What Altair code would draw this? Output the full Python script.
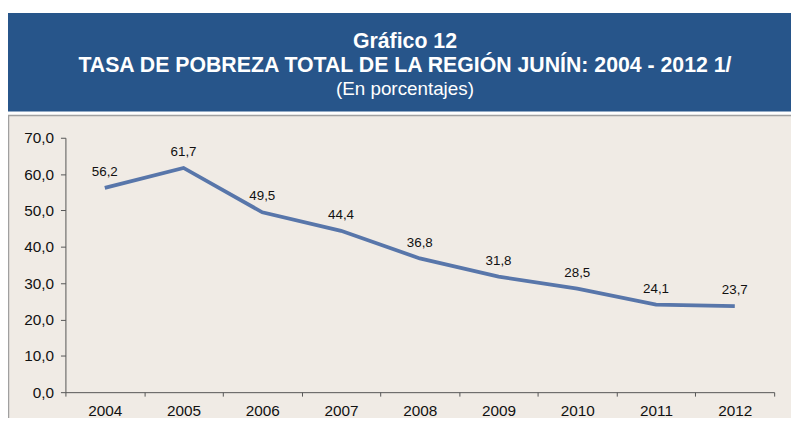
import altair as alt
import pandas as pd

years = ["2004", "2005", "2006", "2007", "2008", "2009", "2010", "2011", "2012"]
values = [56.2, 61.7, 49.5, 44.4, 36.8, 31.8, 28.5, 24.1, 23.7]
y_ticks = [0, 10, 20, 30, 40, 50, 60, 70]
title_line1 = "Gráfico 12"
title_line2 = "TASA DE POBREZA TOTAL DE LA REGIÓN JUNÍN: 2004 - 2012 1/"
subtitle = "(En porcentajes)"

df = pd.DataFrame({"year": years, "value": values})
one = pd.DataFrame({"k": [0]})

FONT = "Liberation Sans"
BLUE = "#27558A"
BEIGE = "#F0EBE5"

x_enc = alt.X("year:N", sort=years,
              scale=alt.Scale(type="band", paddingInner=0, paddingOuter=0),
              axis=alt.Axis(title=None, labelAngle=0, tickBand="extent", labelFontSize=15.5,
                            labelFont=FONT, labelColor="#111", labelPadding=8, tickSize=4,
                            domainColor="#555", tickColor="#555", zindex=1, grid=False))
y_enc = alt.Y("value:Q", scale=alt.Scale(domain=[0, 70], nice=False, zero=True),
              axis=alt.Axis(title=None, values=y_ticks, labelOverlap=False,
                            labelExpr="replace(format(datum.value, '.1f'), '.', ',')",
                            labelFontSize=15.5, labelFont=FONT, labelColor="#111",
                            tickSize=5, labelPadding=7, domainColor="#555",
                            tickColor="#555", zindex=1, grid=False))

panel = alt.Chart(one).mark_rect(fill=BEIGE, stroke="#A0A0A0", strokeWidth=1.5).encode(
    x=alt.value(-57.5), x2=alt.value(760), y=alt.value(-22.5), y2=alt.value(400))
header = alt.Chart(one).mark_rect(fill=BLUE).encode(
    x=alt.value(-60), x2=alt.value(760), y=alt.value(-126), y2=alt.value(-26.5))

t1 = alt.Chart(one).mark_text(font=FONT, fontSize=21.5, fontWeight="bold", color="white",
                              align="center", baseline="alphabetic").encode(
    x=alt.value(343), y=alt.value(-91), text=alt.value(title_line1))
t2 = alt.Chart(one).mark_text(font=FONT, fontSize=21.5, fontWeight="bold", color="white",
                              align="center", baseline="alphabetic").encode(
    x=alt.value(343), y=alt.value(-66.3), text=alt.value(title_line2))
t3 = alt.Chart(one).mark_text(font=FONT, fontSize=19, color="white",
                              align="center", baseline="alphabetic").encode(
    x=alt.value(343), y=alt.value(-43.7), text=alt.value(subtitle))

line = alt.Chart(df).mark_line(color="#5876AA", strokeWidth=3.8).encode(x=x_enc, y=y_enc)
labels = alt.Chart(df).transform_calculate(
    lab="replace(format(datum.value, '.1f'), '.', ',')"
).mark_text(dy=-12, baseline="alphabetic", fontSize=13.5, font=FONT, color="#111").encode(
    x=x_enc, y=y_enc, text="lab:N")

chart = alt.layer(panel, header, t1, t2, t3, line, labels).properties(
    width=716, height=257,
    autosize=alt.AutoSizeParams(type="none"),
    padding={"left": 58, "top": 129, "right": 17, "bottom": 24},
    background="white",
).configure_view(stroke=None)

chart.save("out.html", embed_options={"renderer": "svg", "actions": False})
